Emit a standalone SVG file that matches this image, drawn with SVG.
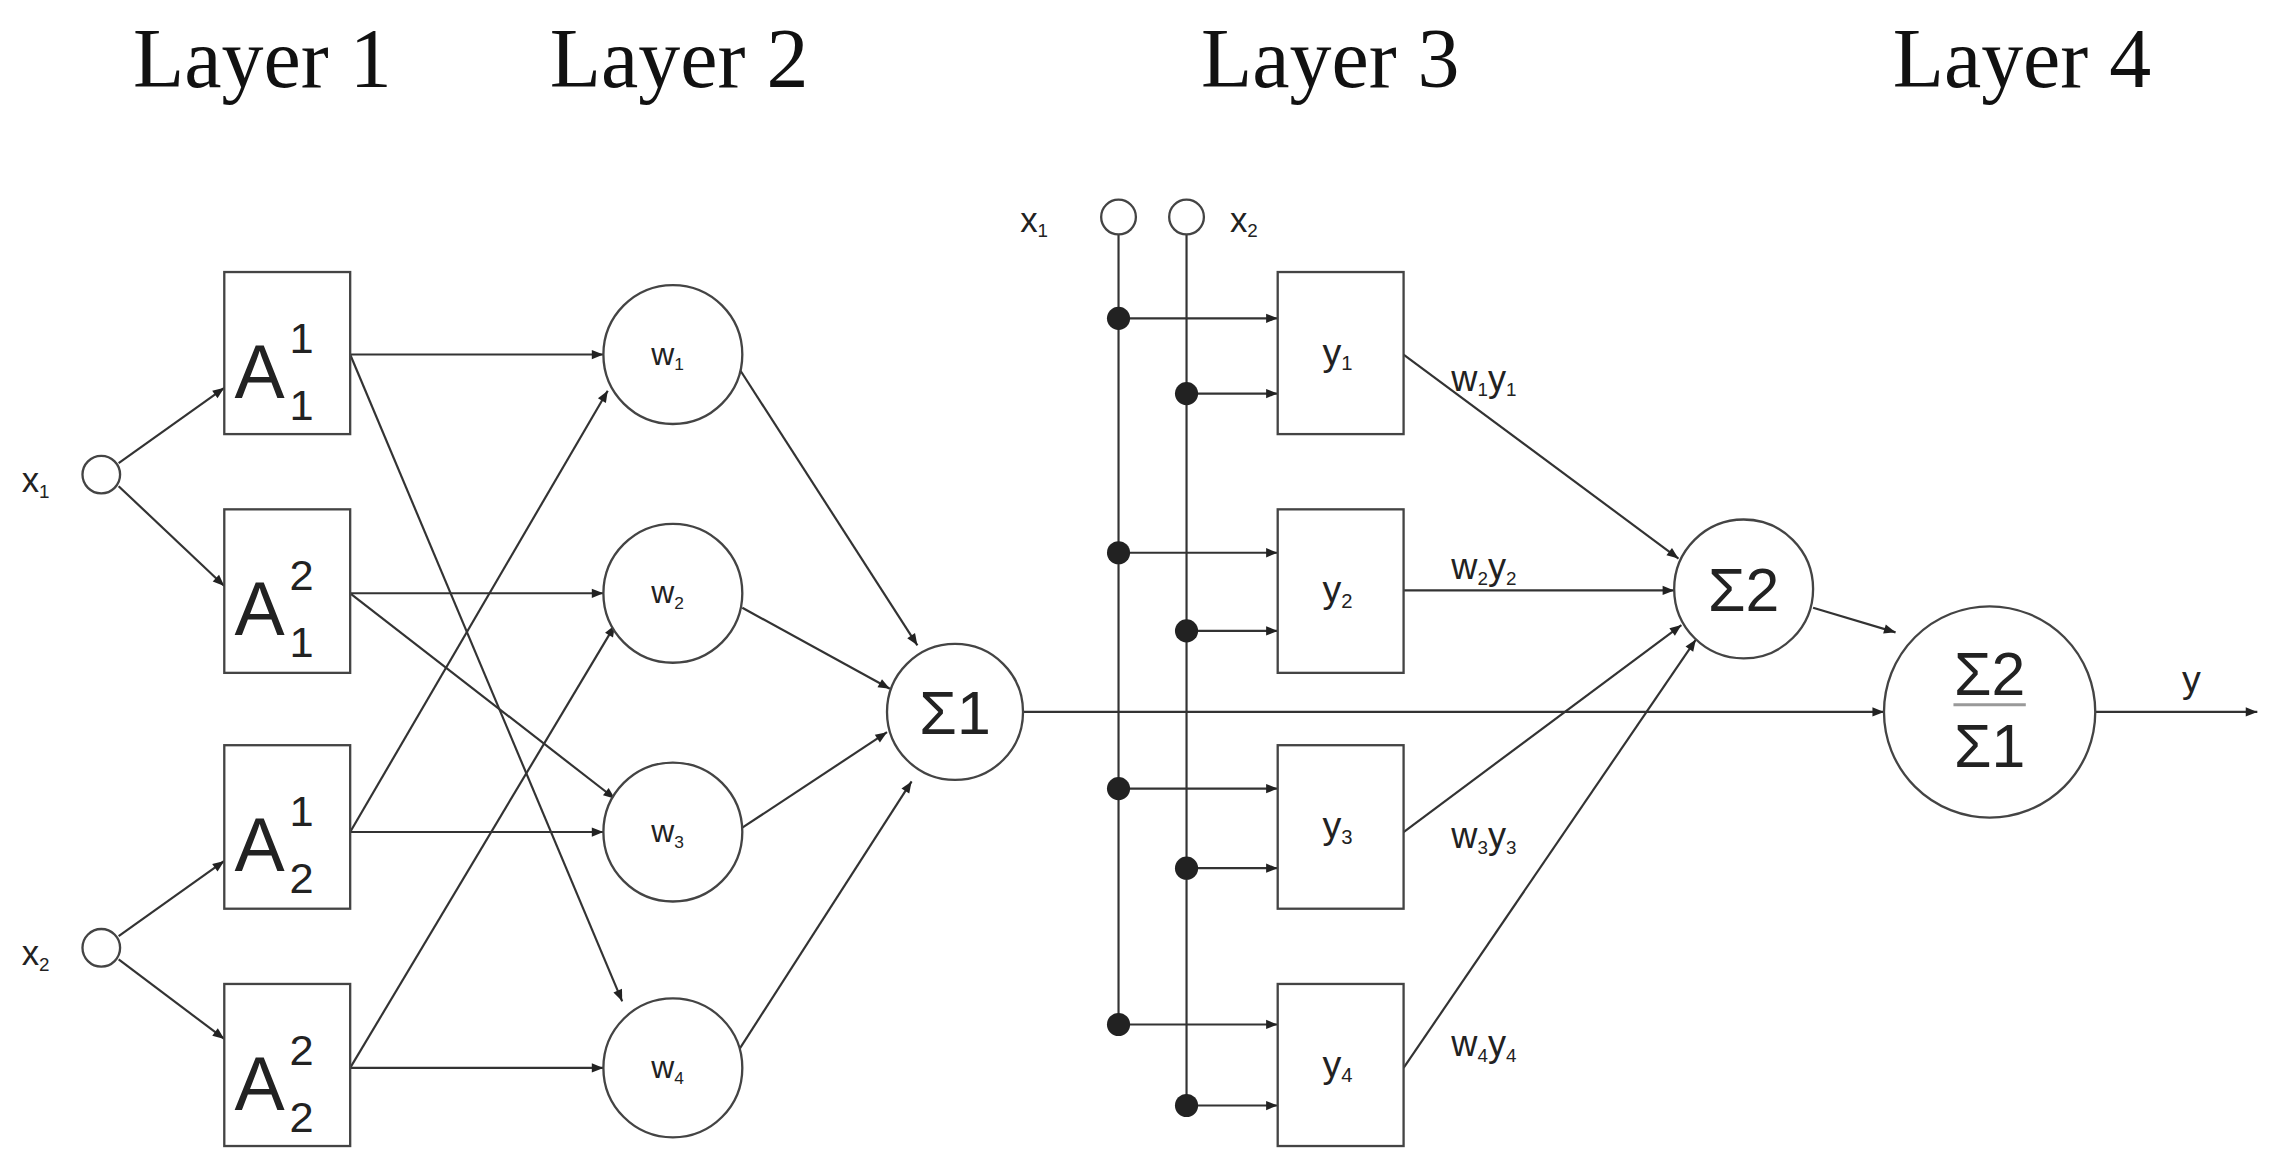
<svg xmlns="http://www.w3.org/2000/svg" width="2269" height="1168" viewBox="0 0 2269 1168">
<defs>
<marker id="ah" viewBox="0 0 10 10" refX="10" refY="5" markerWidth="9" markerHeight="8" orient="auto" markerUnits="userSpaceOnUse"><path d="M0,1 L10,5 L0,9 z" fill="#222"/></marker>
<style>
.n{fill:#fff;stroke:#444;stroke-width:1.6}
.c line,.c path{stroke:#333;stroke-width:1.5;fill:none}
.a{marker-end:url(#ah)}
.t{font-family:"Liberation Sans",Arial,sans-serif;fill:#222}
.L{font-family:"Liberation Serif","Times New Roman",serif;font-size:58px;fill:#111}
.d{fill:#222}
</style>
</defs>
<rect width="2269" height="1168" fill="#fff"/>
<g transform="scale(1.447)">
<g id="labels">
<text class="L" x="92" y="60">Layer 1</text>
<text class="L" x="380" y="60">Layer 2</text>
<text class="L" x="830" y="60">Layer 3</text>
<text class="L" x="1308" y="60">Layer 4</text>
</g>
<g class="c" id="connectors">
<line class="a" x1="82" y1="320" x2="155" y2="268"/>
<line class="a" x1="82" y1="336" x2="155" y2="405"/>
<line class="a" x1="82" y1="647" x2="155" y2="595"/>
<line class="a" x1="82" y1="663" x2="155" y2="718"/>
<line class="a" x1="242" y1="245" x2="417" y2="245"/>
<line class="a" x1="242" y1="245" x2="430" y2="692"/>
<line class="a" x1="242" y1="410" x2="417" y2="410"/>
<line class="a" x1="242" y1="410" x2="425" y2="552"/>
<line class="a" x1="242" y1="575" x2="420" y2="270"/>
<line class="a" x1="242" y1="575" x2="417" y2="575"/>
<line class="a" x1="242" y1="738" x2="425" y2="432"/>
<line class="a" x1="242" y1="738" x2="417" y2="738"/>
<line class="a" x1="511" y1="255" x2="634" y2="446"/>
<line class="a" x1="513" y1="420" x2="615" y2="476"/>
<line class="a" x1="513" y1="572" x2="613" y2="506"/>
<line class="a" x1="511" y1="725" x2="630" y2="540"/>
<line class="a" x1="707" y1="492" x2="1302" y2="492"/>
<line class="a" x1="1448" y1="492" x2="1560" y2="492"/>
<line x1="773" y1="162" x2="773" y2="708"/>
<line x1="820" y1="162" x2="820" y2="764"/>
<line class="a" x1="773" y1="220" x2="883" y2="220"/>
<line class="a" x1="773" y1="382" x2="883" y2="382"/>
<line class="a" x1="773" y1="545" x2="883" y2="545"/>
<line class="a" x1="773" y1="708" x2="883" y2="708"/>
<line class="a" x1="820" y1="272" x2="883" y2="272"/>
<line class="a" x1="820" y1="436" x2="883" y2="436"/>
<line class="a" x1="820" y1="600" x2="883" y2="600"/>
<line class="a" x1="820" y1="764" x2="883" y2="764"/>
<line class="a" x1="970" y1="245" x2="1160" y2="386"/>
<line class="a" x1="970" y1="408" x2="1157" y2="408"/>
<line class="a" x1="970" y1="575" x2="1162" y2="432"/>
<line class="a" x1="970" y1="738" x2="1172" y2="442"/>
<line class="a" x1="1253" y1="420" x2="1310" y2="437"/>
<g stroke="none">
<circle class="d" cx="773" cy="220" r="8"/><circle class="d" cx="773" cy="382" r="8"/><circle class="d" cx="773" cy="545" r="8"/><circle class="d" cx="773" cy="708" r="8"/>
<circle class="d" cx="820" cy="272" r="8"/><circle class="d" cx="820" cy="436" r="8"/><circle class="d" cx="820" cy="600" r="8"/><circle class="d" cx="820" cy="764" r="8"/>
</g>
</g>
<g id="in-x1"><circle class="n" cx="70" cy="328" r="13"/><text class="t" x="15" y="340" font-size="24">x<tspan font-size="13" dy="4">1</tspan></text></g>
<g id="in-x2"><circle class="n" cx="70" cy="655" r="13"/><text class="t" x="15" y="667" font-size="24">x<tspan font-size="13" dy="4">2</tspan></text></g>
<g id="A11"><rect class="n" x="155" y="188" width="87" height="112"/><text class="t" x="162" y="275" font-size="52">A</text><text class="t" x="200" y="244" font-size="30">1</text><text class="t" x="200" y="290" font-size="30">1</text></g>
<g id="A12"><rect class="n" x="155" y="352" width="87" height="113"/><text class="t" x="162" y="439" font-size="52">A</text><text class="t" x="200" y="408" font-size="30">2</text><text class="t" x="200" y="454" font-size="30">1</text></g>
<g id="A21"><rect class="n" x="155" y="515" width="87" height="113"/><text class="t" x="162" y="602" font-size="52">A</text><text class="t" x="200" y="571" font-size="30">1</text><text class="t" x="200" y="617" font-size="30">2</text></g>
<g id="A22"><rect class="n" x="155" y="680" width="87" height="112"/><text class="t" x="162" y="767" font-size="52">A</text><text class="t" x="200" y="736" font-size="30">2</text><text class="t" x="200" y="782" font-size="30">2</text></g>
<g id="w1"><circle class="n" cx="465" cy="245" r="48"/><text class="t" x="450" y="252" font-size="22">w<tspan font-size="12" dy="4">1</tspan></text></g>
<g id="w2"><circle class="n" cx="465" cy="410" r="48"/><text class="t" x="450" y="417" font-size="22">w<tspan font-size="12" dy="4">2</tspan></text></g>
<g id="w3"><circle class="n" cx="465" cy="575" r="48"/><text class="t" x="450" y="582" font-size="22">w<tspan font-size="12" dy="4">3</tspan></text></g>
<g id="w4"><circle class="n" cx="465" cy="738" r="48"/><text class="t" x="450" y="745" font-size="22">w<tspan font-size="12" dy="4">4</tspan></text></g>
<g id="sum1"><circle class="n" cx="660" cy="492" r="47"/><text class="t" x="660" y="507" font-size="42" text-anchor="middle">Σ1</text></g>
<g id="bus-x1"><circle class="n" cx="773" cy="150" r="12"/><text class="t" x="705" y="160" font-size="24">x<tspan font-size="13" dy="4">1</tspan></text></g>
<g id="bus-x2"><circle class="n" cx="820" cy="150" r="12"/><text class="t" x="850" y="160" font-size="24">x<tspan font-size="13" dy="4">2</tspan></text></g>
<g id="y1"><rect class="n" x="883" y="188" width="87" height="112"/><text class="t" x="914" y="252" font-size="26">y<tspan font-size="14" dy="4">1</tspan></text><text class="t" x="1003" y="270" font-size="25">w<tspan font-size="13" dy="4">1</tspan><tspan dy="-4">y</tspan><tspan font-size="13" dy="4">1</tspan></text></g>
<g id="y2"><rect class="n" x="883" y="352" width="87" height="113"/><text class="t" x="914" y="416" font-size="26">y<tspan font-size="14" dy="4">2</tspan></text><text class="t" x="1003" y="400" font-size="25">w<tspan font-size="13" dy="4">2</tspan><tspan dy="-4">y</tspan><tspan font-size="13" dy="4">2</tspan></text></g>
<g id="y3"><rect class="n" x="883" y="515" width="87" height="113"/><text class="t" x="914" y="579" font-size="26">y<tspan font-size="14" dy="4">3</tspan></text><text class="t" x="1003" y="586" font-size="25">w<tspan font-size="13" dy="4">3</tspan><tspan dy="-4">y</tspan><tspan font-size="13" dy="4">3</tspan></text></g>
<g id="y4"><rect class="n" x="883" y="680" width="87" height="112"/><text class="t" x="914" y="744" font-size="26">y<tspan font-size="14" dy="4">4</tspan></text><text class="t" x="1003" y="730" font-size="25">w<tspan font-size="13" dy="4">4</tspan><tspan dy="-4">y</tspan><tspan font-size="13" dy="4">4</tspan></text></g>
<g id="sum2"><circle class="n" cx="1205" cy="407" r="48"/><text class="t" x="1205" y="422" font-size="42" text-anchor="middle">Σ2</text></g>
<g id="div"><circle class="n" cx="1375" cy="492" r="73"/><text class="t" x="1375" y="480" font-size="42" text-anchor="middle">Σ2</text><line x1="1350" y1="487" x2="1400" y2="487" stroke="#999" stroke-width="2"/><text class="t" x="1375" y="530" font-size="42" text-anchor="middle">Σ1</text></g>
<g id="out"><text class="t" x="1508" y="478" font-size="26">y</text></g>
</g>
</svg>
